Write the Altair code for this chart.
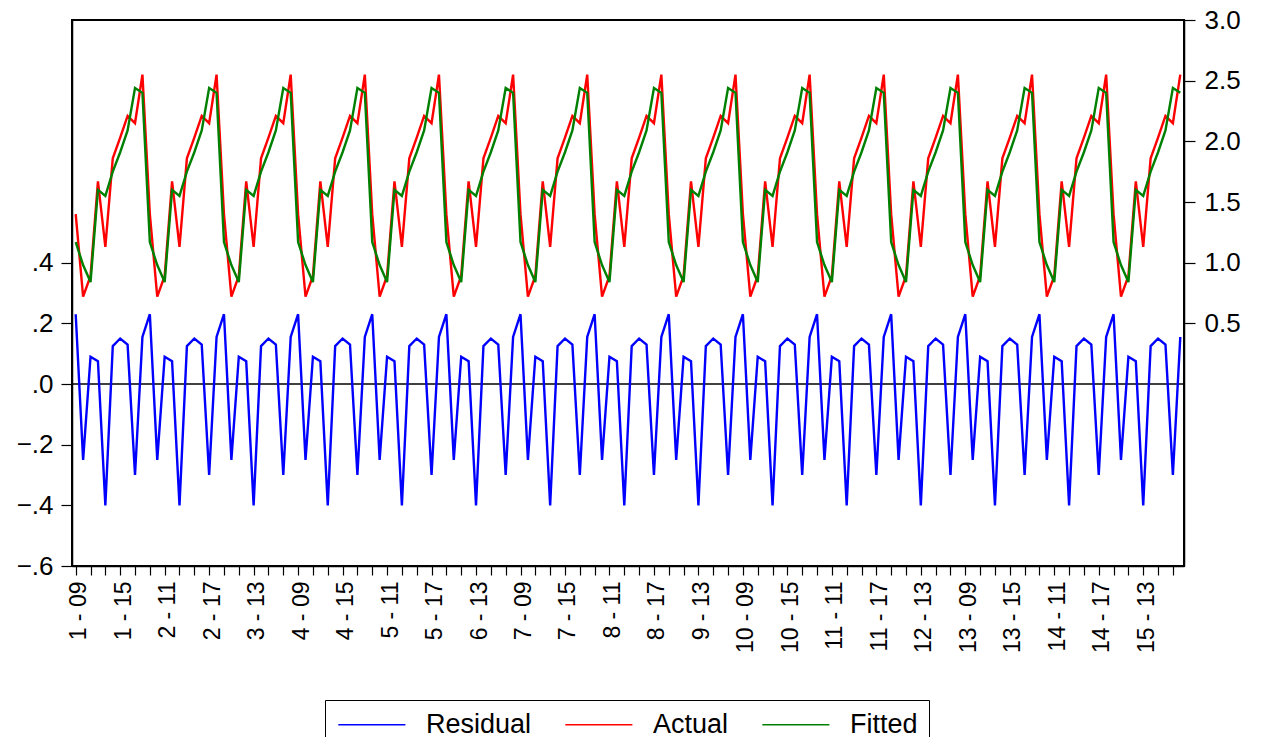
import json
import altair as alt
import pandas as pd

# ---- data (identical 10-period pattern per cross-section) ----
CROSS_SECTIONS = list(range(1, 16))
PERIODS = ["09", "10", "11", "12", "13", "14", "15", "16", "17", "18"]
ACTUAL_CYCLE = [1.40, 0.72, 0.89, 1.67, 1.13, 1.86, 2.03, 2.21, 2.15, 2.55]
FITTED_CYCLE = [1.17, 0.98, 0.84, 1.60, 1.55, 1.75, 1.91, 2.09, 2.44, 2.40]
RESIDUAL_CYCLE = [0.23, -0.25, 0.09, 0.075, -0.40, 0.125, 0.15, 0.13, -0.30, 0.155]
SERIES = ["Residual", "Actual", "Fitted"]
COLORS = ["#0000ff", "#ff0000", "#008000"]
LEFT_TICKS = [-0.6, -0.4, -0.2, 0.0, 0.2, 0.4]
RIGHT_TICKS = [0.5, 1.0, 1.5, 2.0, 2.5, 3.0]

labels = [f"{c} - {p}" for c in CROSS_SECTIONS for p in PERIODS]
n = len(labels)

rows = []
for i in range(n):
    k = i % len(PERIODS)
    rows.append({"idx": i, "series": "Residual", "value": RESIDUAL_CYCLE[k]})
    rows.append({"idx": i, "series": "Actual", "value": ACTUAL_CYCLE[k]})
    rows.append({"idx": i, "series": "Fitted", "value": FITTED_CYCLE[k]})
df = pd.DataFrame(rows)
zero_df = pd.DataFrame({"idx": [-0.5, n - 0.5], "value": [0.0, 0.0]})

FONT = "Liberation Sans"

x_enc = alt.X(
    "idx:Q",
    title=None,
    scale=alt.Scale(domain=[-0.5, n - 0.5], nice=False, zero=False),
    axis=alt.Axis(
        values=list(range(0, n, 2)),
        labelExpr=f"datum.value % 6 == 0 ? {json.dumps(labels)}[datum.value] : ''",
        labelAngle=-90,
        labelAlign="right",
        labelBaseline="middle",
        labelOverlap=False,
        labelFlush=False,
        labelFontSize=23,
        labelPadding=6,
        labelOffset=3,
        tickSize=9,
        grid=False,
    ),
)

left_y = alt.Y(
    "value:Q",
    title=None,
    scale=alt.Scale(domain=[-0.6, 1.2], nice=False, zero=False),
    axis=alt.Axis(
        orient="left",
        values=LEFT_TICKS,
        labelExpr="replace(format(datum.value, '.1f'), '0.', '.')",
        labelFontSize=26,
        tickSize=11,
        labelPadding=8,
        grid=False,
    ),
)

right_y = alt.Y(
    "value:Q",
    title=None,
    scale=alt.Scale(domain=[-1.5, 3.0], nice=False, zero=False),
    axis=alt.Axis(
        orient="right",
        values=RIGHT_TICKS,
        format=".1f",
        labelFontSize=26,
        tickSize=11,
        labelPadding=9,
        grid=False,
    ),
)

color_enc = alt.Color(
    "series:N",
    scale=alt.Scale(domain=SERIES, range=COLORS),
    legend=alt.Legend(
        title=None,
        orient="none",
        legendX=253,
        legendY=680,
        direction="horizontal",
        symbolType="M-1,0H5",
        symbolSize=500,
        symbolStrokeWidth=1.5,
        symbolFillColor="transparent",
        labelFont=FONT,
        labelFontSize=27,
        labelColor="black",
        labelOffset=63,
        columnPadding=30,
        padding=11,
        strokeColor="black",
    ),
)

zero_rule = alt.Chart(zero_df).mark_line(color="black", strokeWidth=1.6).encode(
    x=x_enc, y=left_y
)
resid = (
    alt.Chart(df)
    .transform_filter(alt.datum.series == "Residual")
    .mark_line(strokeWidth=2.4)
    .encode(x=x_enc, y=left_y, color=color_enc)
)
left = alt.layer(zero_rule, resid)

right = (
    alt.Chart(df)
    .transform_filter(alt.datum.series != "Residual")
    .mark_line(strokeWidth=2.4)
    .encode(x=x_enc, y=right_y, color=color_enc)
)

chart = (
    alt.layer(left, right)
    .resolve_scale(y="independent")
    .properties(
        width=1112,
        height=546,
        autosize=alt.AutoSizeParams(type="none"),
        padding={"left": 64, "top": 12, "right": 70, "bottom": 182},
    )
    .configure_view(stroke="black", strokeWidth=2)
    .configure_axis(
        domainColor="black",
        domainWidth=1.5,
        tickColor="black",
        tickWidth=1.2,
        labelColor="black",
        labelFont=FONT,
    )
)

chart.save("out.html", embed_options={"renderer": "svg", "actions": False})
